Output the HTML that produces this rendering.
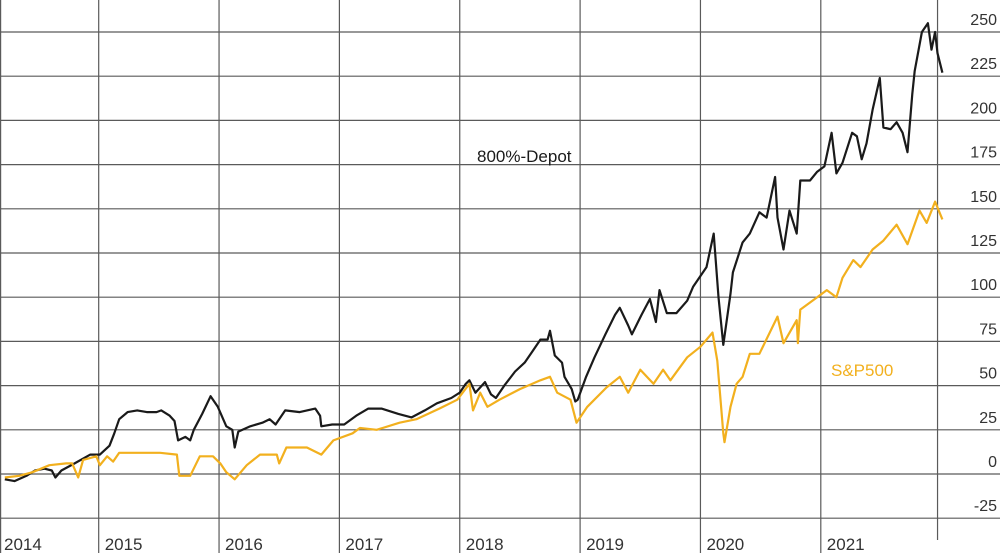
<!DOCTYPE html>
<html><head><meta charset="utf-8"><style>
html,body{margin:0;padding:0;background:#fff;}
svg{display:block;font-family:"Liberation Sans Narrow","Liberation Sans",sans-serif;}
</style></head><body>
<svg id="chart" width="1000" height="553" viewBox="0 0 1000 553" xmlns="http://www.w3.org/2000/svg">
<g id="grid"></g>
<g id="series"></g>
<g id="labels"></g>
<text x="477" y="162" font-size="17" fill="#1a1a1a">800%-Depot</text>
<text x="831" y="376" font-size="17" fill="#f2b01e">S&amp;P500</text>
</svg>
<script>
const yTicks = [250,225,200,175,150,125,100,75,50,25,0,-25];
const yearTicks = [2015,2016,2017,2018,2019,2020,2021];
const yearLabels = ["2014","2015","2016","2017","2018","2019","2020","2021"];
const yearLabelPos = [2014,2015,2016,2017,2018,2019,2020,2021];
const markerYear = 2021.97;

const depotDates = [2014.22,2014.30,2014.40,2014.47,2014.55,2014.61,2014.64,2014.69,2014.80,2014.93,2015.01,2015.09,2015.13,2015.17,2015.24,2015.32,2015.40,2015.48,2015.52,2015.59,2015.63,2015.66,2015.72,2015.76,2015.79,2015.86,2015.93,2015.99,2016.06,2016.11,2016.13,2016.16,2016.26,2016.36,2016.42,2016.47,2016.55,2016.67,2016.80,2016.84,2016.85,2016.94,2017.04,2017.14,2017.24,2017.35,2017.49,2017.60,2017.71,2017.81,2017.93,2018.00,2018.05,2018.08,2018.13,2018.21,2018.26,2018.30,2018.37,2018.46,2018.54,2018.60,2018.67,2018.73,2018.75,2018.79,2018.85,2018.87,2018.93,2018.96,2018.98,2019.05,2019.12,2019.21,2019.29,2019.33,2019.40,2019.43,2019.51,2019.58,2019.63,2019.66,2019.72,2019.80,2019.89,2019.94,2020.05,2020.11,2020.15,2020.19,2020.25,2020.27,2020.35,2020.41,2020.49,2020.55,2020.62,2020.64,2020.69,2020.74,2020.80,2020.83,2020.91,2020.97,2021.03,2021.09,2021.13,2021.18,2021.26,2021.30,2021.34,2021.38,2021.43,2021.49,2021.52,2021.58,2021.63,2021.68,2021.72,2021.76,2021.78,2021.84,2021.89,2021.92,2021.95,2021.97,2022.01];
const depotValues = [-3,-4,-1,2,3,2,-2,2,6,11,11,16,23,31,35,36,35,35,36,33,30,19,21,19,25,34,44,38,27,25,15,24,27,29,31,28,36,35,37,33,27,28,28,33,37,37,34,32,36,40,43,46,51,53,46,52,45,43,50,58,63,69,76,76,81,67,63,55,48,41,42,55,66,79,90,94,84,79,90,99,86,104,91,91,98,106,117,136,100,73,102,114,131,136,148,145,168,145,127,149,136,166,166,171,174,193,170,176,193,191,178,187,206,224,196,195,199,193,182,215,228,250,255,240,250,238,227];

const spDates = [2014.22,2014.34,2014.45,2014.59,2014.73,2014.78,2014.83,2014.87,2014.98,2015.01,2015.07,2015.12,2015.17,2015.34,2015.51,2015.65,2015.67,2015.76,2015.84,2015.95,2016.01,2016.06,2016.13,2016.23,2016.34,2016.48,2016.50,2016.56,2016.73,2016.85,2016.95,2017.11,2017.17,2017.31,2017.50,2017.64,2017.83,2017.98,2018.08,2018.11,2018.17,2018.23,2018.33,2018.50,2018.67,2018.75,2018.81,2018.92,2018.97,2019.06,2019.22,2019.33,2019.40,2019.50,2019.61,2019.69,2019.75,2019.89,2020.00,2020.10,2020.14,2020.19,2020.20,2020.25,2020.30,2020.35,2020.41,2020.49,2020.64,2020.69,2020.80,2020.81,2020.83,2020.97,2021.05,2021.13,2021.18,2021.27,2021.33,2021.43,2021.52,2021.63,2021.72,2021.82,2021.88,2021.95,2022.01];
const spValues = [-2,-1,1,5,6,6,-2,8,10,5,10,7,12,12,12,11,-1,-1,10,10,6,1,-3,5,11,11,6,15,15,11,19,23,26,25,29,31,37,42,51,36,46,38,42,48,53,55,46,42,29,38,49,55,46,59,51,59,53,66,72,80,64,23,18,38,51,55,68,68,89,74,87,74,93,100,104,100,111,121,117,127,132,141,130,149,142,154,144];

const NS = "http://www.w3.org/2000/svg";
function xScale(t){ return 98.7 + (t - 2015) * 120.35; }
function yScale(v){ return 474 - v * 1.768; }
function mk(tag, attrs, parent){ const e = document.createElementNS(NS, tag); for (const k in attrs) e.setAttribute(k, attrs[k]); parent.appendChild(e); return e; }

const grid = document.getElementById('grid');
const labels = document.getElementById('labels');
const series = document.getElementById('series');

yTicks.forEach(v => {
  const y = yScale(v);
  const ln = mk('line', {x1:0, x2:1000, y1:y, y2:y, stroke:'#5a5a5a', 'stroke-width':1.2}, grid);
  
  
  const tx = mk('text', {x:997, y:y-7, 'text-anchor':'end', 'font-size':16, fill:'#333'}, labels);
  tx.textContent = String(v);
  
  
});
yearTicks.forEach(t => {
  const x = xScale(t);
  const ln = mk('line', {x1:x, x2:x, y1:0, y2:553, stroke:'#5a5a5a', 'stroke-width':1.2}, grid);
  
  
});
const mx = xScale(markerYear);
const mline = mk('line', {x1:mx, x2:mx, y1:0, y2:540, stroke:'#5a5a5a', 'stroke-width':1.2}, grid);


const lb = mk('line', {x1:0.6, x2:0.6, y1:0, y2:553, stroke:'#5a5a5a', 'stroke-width':1.2}, grid);



yearLabels.forEach((s, i) => {
  const x = Math.max(xScale(yearLabelPos[i]) + 6, 4);
  const tx = mk('text', {x:x, y:550, 'font-size':17, fill:'#333'}, labels);
  tx.textContent = s;
  
  
});

function pathFor(dates, vals){ return dates.map((d,i)=>(i?'L':'M')+xScale(d).toFixed(1)+' '+yScale(vals[i]).toFixed(1)).join(' '); }
const depot = mk('path', {d:pathFor(depotDates, depotValues), fill:'none', stroke:'#1a1a1a', 'stroke-width':2.2, 'stroke-linejoin':'round'}, series);


const sp = mk('path', {d:pathFor(spDates, spValues), fill:'none', stroke:'#f2b01e', 'stroke-width':2.2, 'stroke-linejoin':'round'}, series);


</script>
</body></html>
